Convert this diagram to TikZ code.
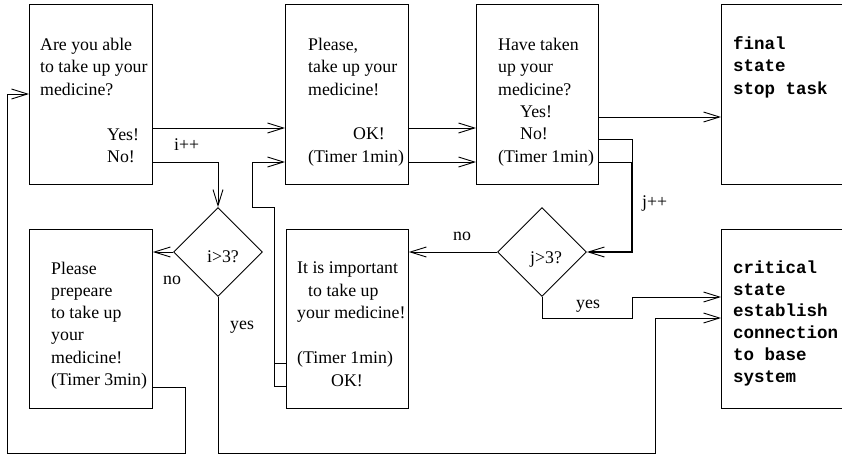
\documentclass[tikz,border=0pt]{standalone}
\usepackage{fontspec}
\setmainfont{Liberation Serif}
\setmonofont{Liberation Mono}
\usetikzlibrary{arrows.meta,shapes.geometric}
\begin{document}
\begin{tikzpicture}[x=1pt,y=-1pt,
  box/.style={draw, line width=0.9pt, inner sep=0pt, anchor=north west, minimum width=123pt, minimum height=180pt},
  dia/.style={draw, diamond, line width=0.9pt, inner sep=0pt, minimum width=89pt, minimum height=89pt},
  ln/.style={line width=0.9pt},
  thk/.style={line width=1.8pt},
  arr/.style={-{Straight Barb[length=16pt,width=10pt,line width=0.9pt]}},
  tx/.style={anchor=base west, inner sep=0pt, font=\fontsize{17.8}{22}\selectfont},
  tt/.style={anchor=base west, inner sep=0pt, font=\fontsize{17.5}{21}\selectfont\ttfamily\bfseries},
]
\useasboundingbox (0,0) rectangle (842,455);
\clip (0,0) rectangle (842,455);

% boxes
\node[box] (b1) at (29,4) {};
\node[box] (b2) at (285,4) {};
\node[box, minimum width=122pt] (b3) at (476,4) {};
\node[box, minimum width=160pt] (b4) at (721,4) {};
\node[box, minimum height=179pt] (b5) at (29,229) {};
\node[box, minimum width=122pt, minimum height=179pt] (b6) at (286,229) {};
\node[box, minimum width=160pt, minimum height=179pt] (b7) at (721,229) {};
\node[dia] (di) at (218,252) {};
\node[dia] (dj) at (542,252) {};

% texts in box 1
\node[tx] (t1a) at (40,50) {Are you able};
\node[tx] (t1b) at (40,72.5) {to take up your};
\node[tx] (t1c) at (40,95) {medicine?};
\node[tx] (t1d) at (107,140) {Yes!};
\node[tx] (t1e) at (107,162) {No!};
% box 2
\node[tx] (t2a) at (308,50) {Please,};
\node[tx] (t2b) at (308,72.5) {take up your};
\node[tx] (t2c) at (308,95) {medicine!};
\node[tx] (t2d) at (353,139) {OK!};
\node[tx] (t2e) at (308,162) {(Timer 1min)};
% box 3
\node[tx] (t3a) at (498,50) {Have taken};
\node[tx] (t3b) at (498,72.5) {up your};
\node[tx] (t3c) at (498,95) {medicine?};
\node[tx] (t3d) at (520,117) {Yes!};
\node[tx] (t3e) at (520,139) {No!};
\node[tx] (t3f) at (498,162) {(Timer 1min)};
% box 4
\node[tt] (t4a) at (733,49) {final};
\node[tt] (t4b) at (733,71.5) {state};
\node[tt] (t4c) at (733,94) {stop task};
% box 5
\node[tx] (t5a) at (51,274) {Please};
\node[tx] (t5b) at (51,296) {prepeare};
\node[tx] (t5c) at (51,318) {to take up};
\node[tx] (t5d) at (51,340.5) {your};
\node[tx] (t5e) at (51,363) {medicine!};
\node[tx] (t5f) at (51,385.5) {(Timer 3min)};
% box 6
\node[tx] (t6a) at (297,273) {It is important};
\node[tx] (t6b) at (308,296) {to take up};
\node[tx] (t6c) at (297,318) {your medicine!};
\node[tx] (t6d) at (297,363) {(Timer 1min)};
\node[tx] (t6e) at (331,386) {OK!};
% box 7
\node[tt] (t7a) at (733,273) {critical};
\node[tt] (t7b) at (733,295) {state};
\node[tt] (t7c) at (733,316.5) {establish};
\node[tt] (t7d) at (733,338) {connection};
\node[tt] (t7e) at (733,360) {to base};
\node[tt] (t7f) at (733,382) {system};
% diamond texts
\node[tx, anchor=base] (ti) at (223,262) {i>3?};
\node[tx, anchor=base] (tj) at (546,263) {j>3?};
% connector labels
\node[tx] (li) at (174,150) {i++};
\node[tx] (lj) at (642,207) {j++};
\node[tx] (lno1) at (163,284) {no};
\node[tx] (lyes1) at (230,329) {yes};
\node[tx] (lno2) at (453,240) {no};
\node[tx] (lyes2) at (576,308) {yes};

% connectors
\draw[ln,arr] (b1.east |- 0,128) -- (b2.west |- 0,128);
\draw[ln,arr] (b1.east |- 0,162) -| (di.north);
\draw[ln,arr] (b6.west |- 0,386) -- (274,386) -- (274,207) -- (252,207) -- (252,162) -- (b2.west |- 0,162);
\draw[ln] (b6.west |- 0,363) -- (274,363);
\draw[ln,arr] (b2.east |- 0,128) -- (b3.west |- 0,128);
\draw[ln,arr] (b2.east |- 0,162) -- (b3.west |- 0,162);
\draw[ln,arr] (b3.east |- 0,117) -- (b4.west |- 0,117);
\draw[ln] (b3.east |- 0,139) -- (632,139) -- (632,162);
\draw[ln] (b3.east |- 0,162) -- (632,162);
\draw[thk,arr] (632,161.5) |- (dj.east);
\draw[ln,arr] (dj.west) -- (b6.east |- dj.west);
\draw[ln,arr] (dj.south) -- (542,318) -- (632,318) -- (632,297) -- (b7.west |- 0,297);
\draw[ln,arr] (di.west) -- (b5.east |- di.west);
\draw[ln,arr] (di.south) -- (218,453) -- (655,453) -- (655,318) -- (b7.west |- 0,318);
\draw[ln,arr] (b5.east |- 0,387) -- (185,387) -- (185,453) -- (7,453) -- (7,94) -- (b1.west |- 0,94);
\end{tikzpicture}
\end{document}
